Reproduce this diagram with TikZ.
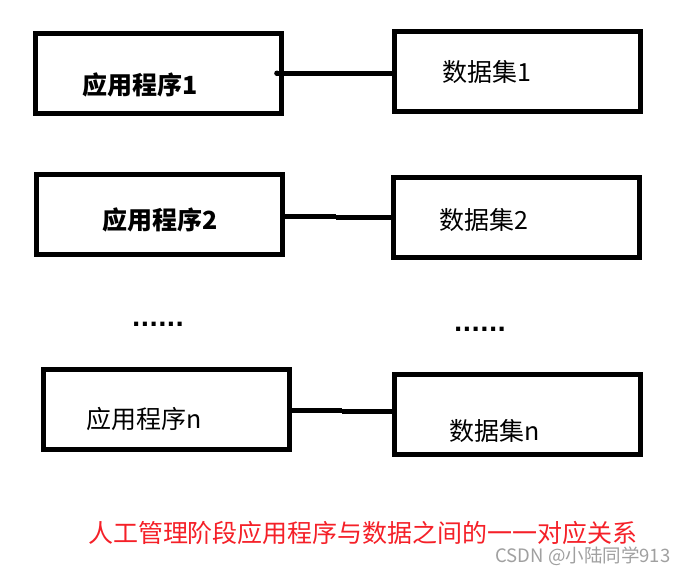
\documentclass[tikz,border=0pt]{standalone}
\usepackage{fontspec}
\setmainfont{Noto Sans CJK SC}
\newfontfamily\dotfont{DejaVu Sans}
\definecolor{notered}{RGB}{245,32,40}
\definecolor{markgray}{RGB}{160,160,160}
\begin{document}
\begin{tikzpicture}[x=1pt,y=-1pt,
  box/.style={draw=black,line width=5pt,minimum width=246pt,minimum height=80pt,inner sep=0pt},
  conn/.style={draw=black,line width=5pt},
  lbl/.style={inner sep=0pt,font=\fontsize{25pt}{30pt}\selectfont},
  blbl/.style={lbl,font=\fontsize{25pt}{30pt}\selectfont\bfseries},
  dots/.style={inner sep=0pt,anchor=base,font=\fontsize{23pt}{28pt}\selectfont\dotfont\bfseries}]
\useasboundingbox[fill=white] (0,0) rectangle (686,573);
% boxes
\node[box] (a1) at (158,73.75) {};
\node[box] (d1) at (517.25,71.5) {};
\node[box] (a2) at (159.25,214.5) {};
\node[box] (d2) at (516.4,217.75) {};
\node[box] (an) at (166.5,409.5) {};
\node[box] (dn) at (517.5,414.5) {};
% labels
\node[blbl] (ta1) at (140,85) {应用程序1};
\node[lbl] (td1) at (487,71.5) {数据集1};
\node[blbl] (ta2) at (160,220) {应用程序2};
\node[lbl] (td2) at (483.5,220) {数据集2};
\node[lbl] (tan) at (144.5,419) {应用程序n};
\node[lbl] (tdn) at (495,431) {数据集n};
% dots
\node[dots] (dl) at (158,326) {......};
\node[dots] (dr) at (480,331) {......};
% connectors
\coordinate (c1) at (277,73.3);
\fill (c1) circle (2.8pt);
\draw[conn] (c1) -- (d1.west |- c1);
\coordinate (m2a) at (336,216);
\coordinate (m2b) at (336,217);
\draw[conn] (a2.east |- m2a) -- (m2a);
\draw[conn] (m2b) -- (d2.west |- m2b);
\coordinate (mna) at (342,410.3);
\coordinate (mnb) at (342,411.7);
\draw[conn] (an.east |- mna) -- (mna);
\draw[conn] (mnb) -- (dn.west |- mnb);
% caption and watermark
\node[lbl,text=notered,anchor=base,text depth=0pt] (cap) at (363,542.5) {人工管理阶段应用程序与数据之间的一一对应关系};
\node[inner sep=0pt,anchor=base,text height=12pt,text=markgray,font=\fontsize{18.5pt}{22pt}\selectfont] (wm) at (583,562) {CSDN @小陆同学913};
\end{tikzpicture}
\end{document}
